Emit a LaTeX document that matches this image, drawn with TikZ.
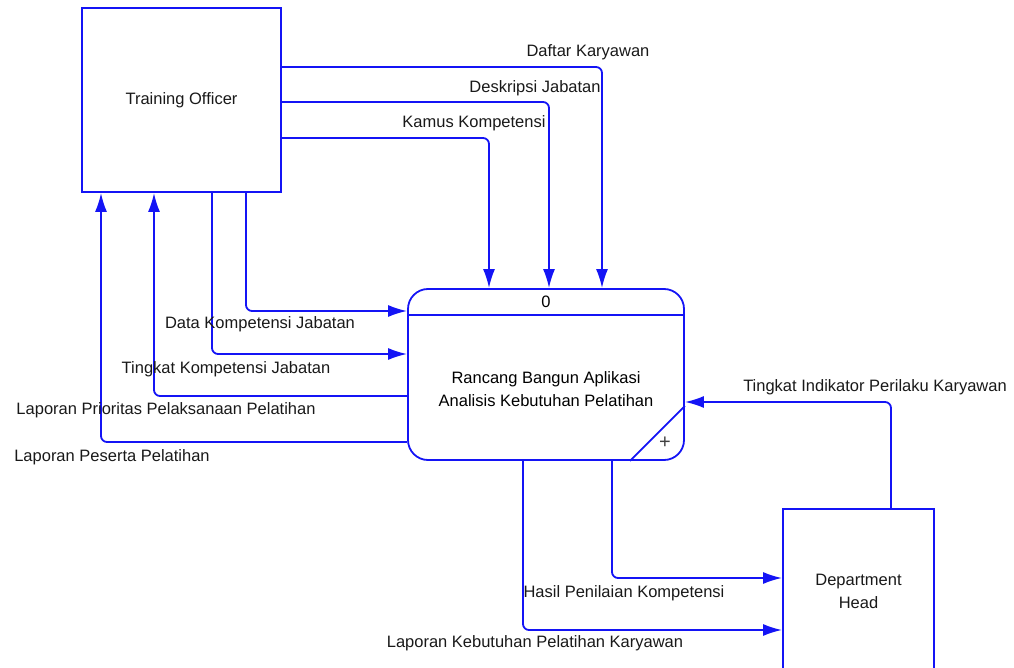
\documentclass[tikz,border=0pt]{standalone}
\usepackage{fontspec}
\setmainfont{Liberation Sans}
\usetikzlibrary{arrows.meta,positioning}
\definecolor{dfdblue}{RGB}{20,20,245}
\tikzset{
  basic/.style    = {draw=dfdblue, line width=1.8pt, font=\fontsize{16.5}{23}\selectfont,
                     align=center, text=black!90},
  entity/.style   = {basic, rectangle, inner sep=0pt},
  process/.style  = {basic, rectangle, rounded corners=20pt, inner sep=0pt},
  flow/.style     = {draw=dfdblue, line width=1.8pt, rounded corners=6pt, ->},
  flowtext/.style = {font=\fontsize{16.5}{19}\selectfont, text=black!90, inner sep=1pt}
}

\begin{document}
\begin{tikzpicture}[x=1pt, y=-1pt, >={Latex[length=19pt,width=12pt]}]
\useasboundingbox (0,0) rectangle (1014,668);
\clip (0,0) rectangle (1014,668);

% external entities and the process
\node[entity, minimum width=199pt, minimum height=184pt] (to) at (181.5,100) {Training Officer};
\node[entity, minimum width=151pt, minimum height=164pt] (dh) at (858.5,591) {Department\\Head};
\node[process, minimum width=276pt, minimum height=171pt] (p0) at (546,374.5) {};
\draw[dfdblue, line width=1.8pt] (p0.west |- 0,315) -- (p0.east |- 0,315);
\draw[dfdblue, line width=1.8pt] (p0.south -| 630,0) -- (p0.east |- 0,406);
\node[font=\fontsize{16.5}{19}\selectfont] (p0id) at (546,302) {0};
\node[font=\fontsize{16.5}{23}\selectfont, align=center] (p0name) at (546,389)
  {Rancang Bangun Aplikasi\\Analisis Kebutuhan Pelatihan};
\node[font=\fontsize{20}{20}\selectfont, text=black!75] (p0plus) at (665,443) {+};

% data flows from Training Officer
\draw[flow] (to.east |- 0,67)  -| (p0.north -| 602,0);
\draw[flow] (to.east |- 0,102) -| (p0.north -| 549,0);
\draw[flow] (to.east |- 0,138) -| (p0.north -| 489,0);
\draw[flow] (to.south -| 246,0) |- (p0.west |- 0,311);
\draw[flow] (to.south -| 212,0) |- (p0.west |- 0,354);

% data flows back to Training Officer
\draw[flow] (p0.west |- 0,396) -| (to.south -| 154,0);
\draw[flow] (p0.west |- 0,442) -| (to.south -| 101,0);

% data flows with Department Head
\draw[flow] (p0.south -| 612,0) |- (dh.west |- 0,578);
\draw[flow] (p0.south -| 523,0) |- (dh.west |- 0,630);
\draw[flow] (dh.north -| 891,0) |- (p0.east |- 0,402);

% labels of the flows
\node[flowtext] (f1)  at (588,52)  {Daftar Karyawan};
\node[flowtext] (f2)  at (535,88)  {Deskripsi Jabatan};
\node[flowtext] (f3)  at (474,123) {Kamus Kompetensi};
\node[flowtext] (f4)  at (260,324) {Data Kompetensi Jabatan};
\node[flowtext] (f5)  at (226,369) {Tingkat Kompetensi Jabatan};
\node[flowtext] (f6)  at (166,410) {Laporan Prioritas Pelaksanaan Pelatihan};
\node[flowtext] (f7)  at (112,457) {Laporan Peserta Pelatihan};
\node[flowtext] (f8)  at (624,593) {Hasil Penilaian Kompetensi};
\node[flowtext] (f9)  at (535,643) {Laporan Kebutuhan Pelatihan Karyawan};
\node[flowtext] (f10) at (875,387) {Tingkat Indikator Perilaku Karyawan};
\end{tikzpicture}
\end{document}
